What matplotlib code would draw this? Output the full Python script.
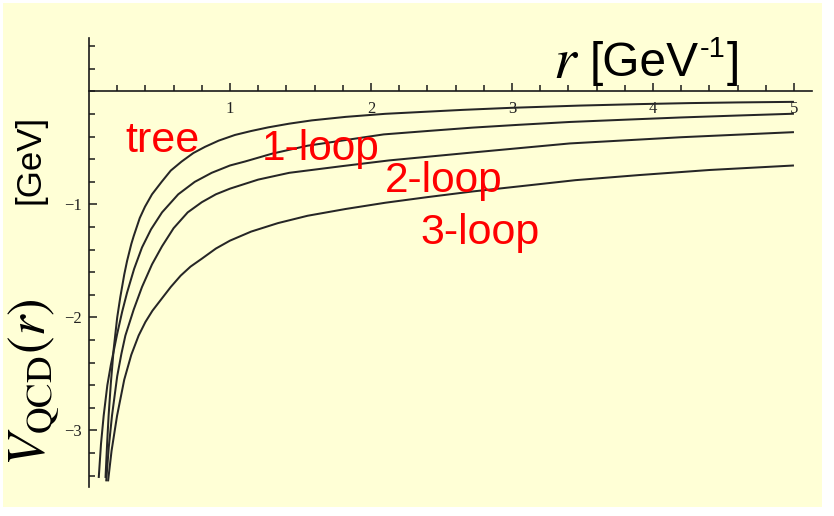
import matplotlib
matplotlib.use("Agg")
import matplotlib.pyplot as plt
from matplotlib.patches import Rectangle
from matplotlib.ticker import FixedLocator

# --- data ---
r_tree = [0.117, 0.13, 0.139, 0.155, 0.175, 0.2, 0.222, 0.25, 0.27, 0.3, 0.317, 0.36,
          0.397, 0.447, 0.515, 0.58, 0.657, 0.74, 0.823, 0.92, 1.035, 1.15, 1.27, 1.42,
          1.58, 1.82, 2.1, 2.35, 2.65, 2.99, 3.48, 3.9, 4.26, 4.6, 5.0]
v_tree = [-3.42, -3.08, -2.87, -2.58, -2.28, -2.0, -1.82, -1.62, -1.5, -1.35, -1.28, -1.12,
          -1.02, -0.91, -0.80, -0.70, -0.62, -0.545, -0.49, -0.435, -0.385, -0.35, -0.318, -0.285,
          -0.256, -0.225, -0.198, -0.182, -0.163, -0.145, -0.125, -0.112, -0.103, -0.097, -0.092]

r_1loop = [0.069, 0.085, 0.104, 0.13, 0.155, 0.178, 0.199, 0.235, 0.27, 0.32, 0.376, 0.44,
           0.518, 0.633, 0.75, 0.87, 1.0, 1.106, 1.3, 1.55, 1.82, 2.09, 2.4, 2.72, 3.05,
           3.41, 3.8, 4.2, 4.6, 5.0]
v_1loop = [-3.42, -3.12, -2.87, -2.6, -2.42, -2.28, -2.15, -1.95, -1.78, -1.57, -1.38, -1.22,
           -1.07, -0.91, -0.80, -0.72, -0.655, -0.62, -0.55, -0.48, -0.43, -0.38, -0.35, -0.32, -0.295,
           -0.27, -0.25, -0.23, -0.213, -0.197]

r_2loop = [0.122, 0.14, 0.163, 0.2, 0.23, 0.258, 0.317, 0.376, 0.447, 0.518, 0.6, 0.7,
           0.8, 0.9, 1.0, 1.2, 1.42, 1.8, 2.13, 2.72, 3.41, 4.2, 5.0]
v_2loop = [-3.45, -3.15, -2.87, -2.52, -2.32, -2.16, -1.93, -1.73, -1.53, -1.37, -1.21, -1.07,
           -0.98, -0.91, -0.86, -0.78, -0.72, -0.66, -0.61, -0.54, -0.46, -0.405, -0.36]

r_3loop = [0.135, 0.16, 0.199, 0.25, 0.3, 0.352, 0.40, 0.45, 0.518, 0.58, 0.65, 0.72, 0.8,
           0.9, 1.0, 1.15, 1.34, 1.55, 1.82, 2.1, 2.4, 2.72, 3.05, 3.45, 3.9, 4.4, 5.0]
v_3loop = [-3.45, -3.18, -2.87, -2.55, -2.33, -2.16, -2.04, -1.94, -1.83, -1.73, -1.63, -1.55, -1.48,
           -1.39, -1.32, -1.24, -1.165, -1.10, -1.04, -0.985, -0.935, -0.885, -0.84, -0.785, -0.74, -0.695, -0.655]

x_major = [1, 2, 3, 4, 5]
y_major = [-3, -2, -1]
x_minor = [i * 0.2 for i in range(1, 26)]
y_minor = [-3.4 + i * 0.2 for i in range(20)]

bg = '#FFFFD6'
curve_col = '#262626'

plt.rcParams['font.family'] = ['Liberation Serif', 'DejaVu Serif']
plt.rcParams['axes.unicode_minus'] = True

W, H = 834, 516
fig = plt.figure(figsize=(W / 100, H / 100), dpi=100)
fig.patch.set_facecolor('white')
fig.add_artist(Rectangle((3 / W, 1 - 507 / H), 819 / W, 504 / H, transform=fig.transFigure,
                         facecolor=bg, edgecolor='none', zorder=-10))

ax = fig.add_axes([89 / W, 1 - 487 / H, 723 / W, 449 / H])
ax.set_facecolor('none')
ax.set_xlim(0, 5.128)
ax.set_ylim(-3.5, 0.473)

for r, v in [(r_tree, v_tree), (r_1loop, v_1loop), (r_2loop, v_2loop), (r_3loop, v_3loop)]:
    ax.plot(r, v, color=curve_col, lw=1.45, solid_capstyle='butt')

# Mathematica style axes crossing at the origin
ax.spines['left'].set_position(('data', 0))
ax.spines['bottom'].set_position(('data', 0))
ax.spines['top'].set_visible(False)
ax.spines['right'].set_visible(False)
for s in ('left', 'bottom'):
    ax.spines[s].set_linewidth(1.2)
    ax.spines[s].set_color('#1a1a1a')

ax.xaxis.set_major_locator(FixedLocator(x_major))
ax.yaxis.set_major_locator(FixedLocator(y_major))
ax.xaxis.set_minor_locator(FixedLocator(x_minor))
ax.yaxis.set_minor_locator(FixedLocator(y_minor))
ax.set_xticklabels([str(v) for v in x_major])
ax.set_yticklabels(['\u2212' + str(-v) for v in y_major])
ax.tick_params(which='both', direction='in', color='#1a1a1a', width=1.1)
ax.tick_params(which='major', length=5.5, labelsize=12, labelcolor='#222222')
ax.tick_params(which='minor', length=4.5)
ax.tick_params(axis='x', which='major', pad=7)
ax.tick_params(axis='y', which='major', pad=5)

# curve labels
red = '#FF0000'
ax.text(0.255, -0.535, 'tree', color=red, fontsize=31, family='Liberation Sans', va='baseline')
ax.text(1.227, -0.606, '1-loop', color=red, fontsize=30.5, family='Liberation Sans', va='baseline')
ax.text(2.10, -0.889, '2-loop', color=red, fontsize=30.5, family='Liberation Sans', va='baseline')
ax.text(2.35, -1.35, '3-loop', color=red, fontsize=31, family='Liberation Sans', va='baseline')

# axis titles
fig.text(553 / W, 1 - 78 / H, '$r$', fontsize=42, math_fontfamily='stix', va='baseline')
renderer = fig.canvas.get_renderer()
t1 = fig.text(590 / W, 1 - 76 / H, '[GeV', fontsize=34.5, family='Liberation Sans', va='baseline')
x1 = t1.get_window_extent(renderer).x1
t2 = fig.text(x1 / W + 1 / W, 1 - 57 / H, '-1', fontsize=21, family='Liberation Sans', va='baseline')
x2 = t2.get_window_extent(renderer).x1
fig.text(x2 / W + 1 / W, 1 - 76 / H, ']', fontsize=34.5, family='Liberation Sans', va='baseline')

fig.text(30 / W, 1 - 159 / H, '[GeV]', fontsize=25, family='Liberation Sans',
         rotation=90, ha='center', va='center')
fig.text(34 / W, 1 - 382 / H, '$V_{\\mathrm{QCD}}(r)$', fontsize=38, math_fontfamily='stix',
         rotation=90, ha='center', va='center')

fig.savefig('out.png', dpi=100, facecolor=fig.get_facecolor())
